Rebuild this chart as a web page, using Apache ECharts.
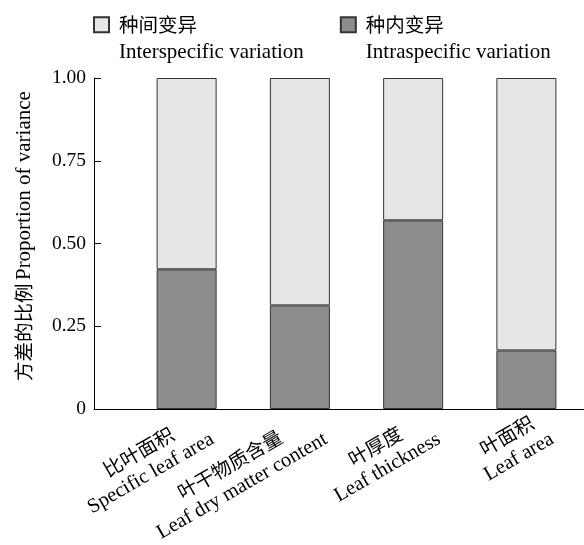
<!DOCTYPE html>
<html>
<head>
<meta charset="utf-8">
<script src="https://cdn.jsdelivr.net/npm/echarts@6/dist/echarts.min.js"></script>
<style>html,body{margin:0;padding:0;background:#fff}#c{width:584px;height:545px}</style>
</head>
<body>
<div id="c"></div>
<script>
const categoriesCn = ['比叶面积', '叶干物质含量', '叶厚度', '叶面积'];
const categoriesEn = ['Specific leaf area', 'Leaf dry matter content', 'Leaf thickness', 'Leaf area'];
const intraspecific = [0.422, 0.313, 0.570, 0.177];
const interspecific = [0.578, 0.687, 0.430, 0.823];
const yTicks = [0, 0.25, 0.5, 0.75, 1.0];
const seriesCn = ['种间变异', '种内变异'];
const seriesEn = ['Interspecific variation', 'Intraspecific variation'];

const CN = '"Noto Sans CJK SC"';
const EN = '"Liberation Serif", "Times New Roman", serif';
const rich = {
  cn: {fontFamily: CN, fontSize: 19.5, color: '#000', lineHeight: 25, align: 'center'},
  en: {fontFamily: EN, fontSize: 20.5, color: '#000', lineHeight: 25, align: 'center'}
};
const legRich = {
  cn: {fontFamily: CN, fontSize: 19.5, color: '#000', lineHeight: 28},
  en: {fontFamily: EN, fontSize: 21, color: '#000', lineHeight: 28}
};

const chart = echarts.init(document.getElementById('c'));
chart.setOption({
  animation: false,
  backgroundColor: '#fff',
  legend: {
    left: 93, top: 15, padding: 0, itemWidth: 15, itemHeight: 15, itemGap: 36, icon: 'rect',
    data: ['inter', 'intra'],
    formatter: n => { const i = n === 'inter' ? 0 : 1; return '{cn|' + seriesCn[i] + '}\n{en|' + seriesEn[i] + '}'; },
    textStyle: {rich: legRich, padding: [28, 0, 0, 5]}
  },
  grid: [
    {left: 130, right: 1, top: 78, bottom: 136},
    {left: 94, right: 0, top: 78, bottom: 136}
  ],
  xAxis: [{
    type: 'category', gridIndex: 0,
    data: categoriesCn.map((c, i) => c + '|' + categoriesEn[i]),
    axisLine: {show: false}, axisTick: {show: false},
    axisLabel: {
      rotate: 30, margin: 8, interval: 0, padding: [37, -12, 0, 0],
      formatter: v => { const p = v.split('|'); return '{cn|' + p[0] + '}\n{en|' + p[1] + '}'; },
      rich: rich
    }
  }, {
    type: 'value', gridIndex: 1, min: 0, max: 1,
    axisLine: {show: true, lineStyle: {color: '#000', width: 1}},
    axisTick: {show: false}, axisLabel: {show: false}, splitLine: {show: false}
  }],
  yAxis: [{
    type: 'value', gridIndex: 0, min: 0, max: 1, interval: 0.25, offset: 36,
    axisLine: {show: true, lineStyle: {color: '#000', width: 1}},
    axisTick: {show: true, inside: true, length: 7, lineStyle: {color: '#000'}},
    splitLine: {show: false},
    axisLabel: {
      margin: 8, color: '#000', fontFamily: EN, fontSize: 19.5,
      formatter: v => v === 0 ? '0' : v.toFixed(2)
    },
    name: '{cn|方差的比例} {en|Proportion of variance}',
    nameLocation: 'middle', nameRotate: 90, nameGap: 56,
    nameTextStyle: {rich: legRich, padding: [0, 0, 0, 15]}
  }, {
    type: 'value', gridIndex: 1, show: false, min: 0, max: 1
  }],
  series: [{
    name: 'intra', type: 'bar', stack: 'v', barWidth: 60,
    data: intraspecific,
    itemStyle: {color: '#8c8c8c', borderColor: '#333', borderWidth: 1}
  }, {
    name: 'inter', type: 'bar', stack: 'v', barWidth: 60,
    data: interspecific,
    itemStyle: {color: '#e6e6e6', borderColor: '#333', borderWidth: 1}
  }]
});
</script>
</body>
</html>
